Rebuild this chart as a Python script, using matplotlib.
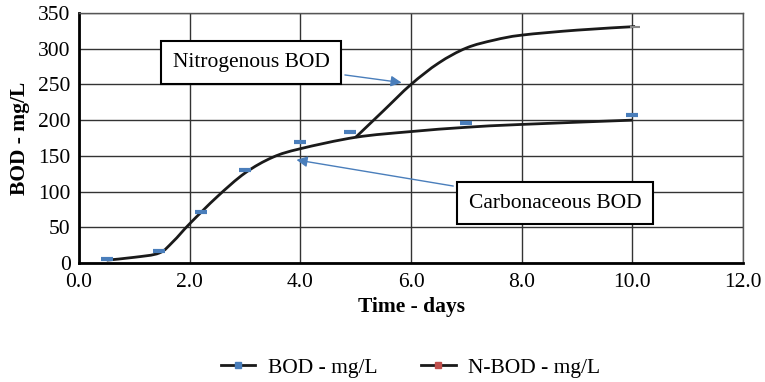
import matplotlib.pyplot as plt
from matplotlib.lines import Line2D
from matplotlib.path import Path
from matplotlib.patches import PathPatch

# Measured BOD values (markers)
bod_days = [0.5, 1.45, 2.2, 3.0, 4.0, 4.9, 7.0, 10.0]
bod_vals = [5, 17, 72, 130, 169, 183, 196, 207]

# Fitted carbonaceous BOD curve
cbod_days = [0.5, 1.0, 1.45, 1.7, 2.0, 2.5, 3.0, 3.5, 4.0, 5.0, 6.0, 7.0, 8.0, 10.0]
cbod_vals = [4, 8, 14, 30, 55, 93, 126, 148, 160, 176, 184, 190, 194, 200]

# Nitrogenous BOD curve
nbod_days = [5.0, 5.5, 6.0, 6.5, 7.0, 7.5, 8.0, 9.0, 10.05]
nbod_vals = [176, 213, 250, 280, 301, 312, 319, 326, 331]

x_ticks = [0, 2, 4, 6, 8, 10, 12]
y_ticks = [0, 50, 100, 150, 200, 250, 300, 350]


def smooth_path(xs, ys):
    # Catmull-Rom style smoothing drawn as cubic Bezier segments
    pts = list(zip(xs, ys))
    verts = [pts[0]]
    codes = [Path.MOVETO]
    n = len(pts)
    for i in range(n - 1):
        p0 = pts[i - 1] if i > 0 else pts[i]
        p1 = pts[i]
        p2 = pts[i + 1]
        p3 = pts[i + 2] if i + 2 < n else pts[i + 1]
        c1 = (p1[0] + (p2[0] - p0[0]) / 6, p1[1] + (p2[1] - p0[1]) / 6)
        c2 = (p2[0] - (p3[0] - p1[0]) / 6, p2[1] - (p3[1] - p1[1]) / 6)
        verts += [c1, c2, p2]
        codes += [Path.CURVE4] * 3
    return Path(verts, codes)


plt.rcParams['font.family'] = ['Liberation Serif', 'DejaVu Serif']

fig = plt.figure(figsize=(7.65, 3.82), dpi=100)
ax = fig.add_axes([0.1033, 0.3115, 0.8680, 0.6545])

ax.add_patch(PathPatch(smooth_path(cbod_days, cbod_vals), fill=False,
                       edgecolor='#1a1a1a', lw=2.0, zorder=3))
ax.add_patch(PathPatch(smooth_path(nbod_days, nbod_vals), fill=False,
                       edgecolor='#1a1a1a', lw=2.0, zorder=3))
ax.plot(bod_days, bod_vals, ls='none', marker='_', ms=8, mew=3,
        color='#4a7ebb', zorder=4)
ax.plot([nbod_days[-1]], [nbod_vals[-1]], ls='none', marker='_', ms=7,
        mew=1.5, color='#888888', zorder=4)

ax.set_xlim(0, 12)
ax.set_ylim(0, 350)
ax.set_xticks(x_ticks)
ax.set_xticklabels([f'{v:.1f}' for v in x_ticks])
ax.set_yticks(y_ticks)
ax.grid(True, color='#333333', lw=1.0)
ax.set_axisbelow(True)
ax.tick_params(length=0, labelsize=15.5)
ax.tick_params(axis='y', pad=6)
ax.tick_params(axis='x', pad=7)
for side in ['top', 'right']:
    ax.spines[side].set_color('#555555')
    ax.spines[side].set_linewidth(1.0)
for side in ['left', 'bottom']:
    ax.spines[side].set_color('black')
    ax.spines[side].set_linewidth(2.0)

ax.set_xlabel('Time - days', fontsize=15.5, fontweight='bold', labelpad=4)
ax.set_ylabel('BOD - mg/L', fontsize=15.5, fontweight='bold', labelpad=6)

arrow = dict(arrowstyle='-|>', color='#4a7ebb', lw=1.0, mutation_scale=16)
box = dict(boxstyle='square,pad=0.55', fc='white', ec='black', lw=1.5)
ax.annotate('Nitrogenous BOD', xy=(5.88, 252), xytext=(3.11, 281),
            ha='center', va='center', fontsize=15.5, bbox=box,
            arrowprops=arrow, zorder=5)
ax.annotate('Carbonaceous BOD', xy=(3.88, 145), xytext=(8.6, 84),
            ha='center', va='center', fontsize=15.5, bbox=box,
            arrowprops=arrow, zorder=5)

handles = [
    Line2D([], [], color='#1a1a1a', lw=2, marker='s', ms=4,
           mfc='#4a7ebb', mec='#4a7ebb'),
    Line2D([], [], color='#1a1a1a', lw=2, marker='s', ms=4,
           mfc='#c0504d', mec='#c0504d'),
]
fig.legend(handles, ['BOD - mg/L', 'N-BOD - mg/L'], loc='center',
           bbox_to_anchor=(0.537, 0.037), ncol=2, frameon=False,
           fontsize=15.5, handlelength=1.6, handletextpad=0.6,
           columnspacing=2.0, borderaxespad=0, borderpad=0)

fig.savefig('out.png', dpi=100)
